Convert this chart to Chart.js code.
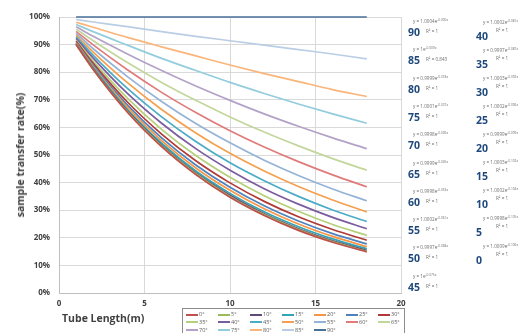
<!DOCTYPE html>
<html>
<head>
<meta charset="utf-8">
<script src="https://cdn.jsdelivr.net/npm/chart.js@4/dist/chart.umd.min.js"></script>
<style>
  body { margin: 0; background: #fff; }
  #wrap { position: relative; width: 532px; height: 333px; overflow: hidden; font-family: "Open Sans", sans-serif; }
  #chart { position: absolute; left: 0; top: 0; }
  .ytitle { position: absolute; left: 20px; top: 155px; transform: translate(-50%, -50%) rotate(-90deg);
            font-weight: bold; font-size: 10.5px; color: #404040; white-space: nowrap; }
  .xtitle { position: absolute; left: 62px; top: 311px; font-weight: bold; font-size: 10.5px; color: #404040; white-space: nowrap; }
  .num { position: absolute; font-weight: bold; font-size: 10.5px; color: #1f497d; line-height: 1; transform: translateY(-50%); }
  .eq, .r2 { position: absolute; font-size: 4.6px; color: #6e6e6e; white-space: nowrap; line-height: 1; transform: translateY(-50%); }
  .eq sup { font-size: 3.2px; vertical-align: 1.6px; }
  #legend { position: absolute; left: 182px; top: 308px; width: 223px; height: 40px; border: 1px solid #8c8c8c; box-sizing: border-box; }
  .item { position: absolute; font-size: 5.5px; color: #595959; white-space: nowrap; line-height: 1; }
  .item i { display: inline-block; width: 12px; height: 2px; vertical-align: middle; margin-right: 1px; }
</style>
</head>
<body>
<div id="wrap">
  <canvas id="chart" width="532" height="333"></canvas>
  <div class="ytitle">sample transfer rate(%)</div>
  <div class="xtitle">Tube Length(m)</div>
  <div id="legend"></div>
</div>
<script>
// tube length points (m)
const lengths = [1, 2, 4, 6, 8, 10, 12, 14, 16, 18];

// inclination angles and their line colours
const angles = [0, 5, 10, 15, 20, 25, 30, 35, 40, 45, 50, 55, 60, 65, 70, 75, 80, 85, 90];
const colors = ["#c0504d", "#9bbb59", "#604a7b", "#31a5b5", "#f79646", "#4f81bd", "#b03a36",
                "#b5cf7a", "#7b5c9e", "#4bacc6", "#f4a04e", "#95b3d7", "#e07b7b", "#c3d69b",
                "#b3a2c7", "#93cddd", "#fab57a", "#b9cde5", "#4a6f9a"];

// sample transfer rate (%), one row per angle
const rate0  = [90.0, 81.0, 65.5, 53.0, 42.9, 34.7, 28.1, 22.7, 18.4, 14.9];
const rate5  = [90.0, 81.0, 65.7, 53.3, 43.2, 35.0, 28.4, 23.0, 18.6, 15.1];
const rate10 = [90.1, 81.2, 66.0, 53.6, 43.5, 35.4, 28.7, 23.3, 18.9, 15.4];
const rate15 = [90.3, 81.6, 66.5, 54.3, 44.2, 36.1, 29.4, 24.0, 19.6, 16.0];
const rate20 = [90.6, 82.0, 67.3, 55.2, 45.3, 37.2, 30.5, 25.0, 20.5, 16.8];
const rate25 = [90.8, 82.5, 68.1, 56.2, 46.4, 38.3, 31.6, 26.1, 21.5, 17.8];
const rate30 = [91.2, 83.2, 69.2, 57.6, 47.9, 39.9, 33.2, 27.6, 23.0, 19.1];
const rate35 = [91.6, 84.0, 70.6, 59.3, 49.8, 41.9, 35.2, 29.6, 24.8, 20.9];
const rate40 = [92.2, 85.1, 72.3, 61.5, 52.3, 44.5, 37.8, 32.2, 27.4, 23.3];
const rate45 = [92.8, 86.1, 74.1, 63.8, 54.9, 47.2, 40.7, 35.0, 30.1, 25.9];
const rate50 = [93.4, 87.3, 76.2, 66.5, 58.0, 50.6, 44.2, 38.6, 33.7, 29.4];
const rate55 = [94.1, 88.5, 78.4, 69.4, 61.4, 54.4, 48.1, 42.6, 37.7, 33.4];
const rate60 = [94.8, 89.9, 80.9, 72.7, 65.4, 58.8, 52.9, 47.6, 42.8, 38.5];
const rate65 = [95.6, 91.4, 83.5, 76.3, 69.8, 63.8, 58.3, 53.3, 48.7, 44.5];
const rate70 = [96.5, 93.0, 86.6, 80.6, 75.0, 69.8, 64.9, 60.4, 56.2, 52.3];
const rate75 = [97.3, 94.7, 89.8, 85.0, 80.6, 76.3, 72.3, 68.5, 64.9, 61.5];
const rate80 = [98.1, 96.3, 92.6, 89.2, 85.9, 82.6, 79.5, 76.6, 73.7, 71.2];
const rate85 = [99.1, 98.2, 96.5, 94.7, 93.0, 91.4, 89.8, 88.2, 86.6, 84.8];
const rate90 = [100, 100, 100, 100, 100, 100, 100, 100, 100, 100];
const rates = [rate0, rate5, rate10, rate15, rate20, rate25, rate30, rate35, rate40, rate45,
               rate50, rate55, rate60, rate65, rate70, rate75, rate80, rate85, rate90];

// trendline labels shown beside the plot
const fitA = ["1.0009", "0.9998", "1.0002", "1.0003", "0.9999", "1.0002", "1.0003", "0.9997", "1.0002", "1",
              "0.9997", "1.0002", "0.9998", "0.9999", "0.9998", "1.0001", "0.9999", "1", "1.0004"];
const fitB = ["0.106", "0.105", "0.104", "0.102", "0.099", "0.096", "0.092", "0.087", "0.081", "0.075",
              "0.068", "0.061", "0.053", "0.045", "0.036", "0.027", "0.018", "0.009", "0.000"];
const fitR2 = ["1", "1", "1", "1", "1", "1", "1", "1", "1", "1",
               "1", "1", "1", "1", "1", "1", "1", "0.843", "1"];

const xTicks = [0, 5, 10, 15, 20];

const tickFont = { family: "Open Sans", size: 8, weight: "bold" };

const datasets = angles.map((a, i) => ({
    label: a + "°",
    data: lengths.map((x, j) => ({ x: x, y: rates[i][j] })),
    borderColor: colors[i],
    borderWidth: 1.7,
    pointRadius: 0,
    cubicInterpolationMode: "monotone",
    clip: 4,
    fill: false
}));

new Chart(document.getElementById("chart"), {
    type: "line",
    data: { datasets: datasets },
    options: {
        responsive: false,
        animation: false,
        layout: { padding: { top: 17, right: 131, left: 0, bottom: 0 } },
        plugins: { legend: { display: false }, tooltip: { enabled: false } },
        scales: {
            x: {
                type: "linear", min: 0, max: 20,
                afterBuildTicks: s => { s.ticks = xTicks.map(v => ({ value: v })); },
                afterFit: s => { s.height = 40; },
                grid: { color: "#d9d9d9", drawTicks: false },
                border: { color: "#bfbfbf" },
                ticks: { font: tickFont, color: "#404040", padding: 6 }
            },
            y: {
                min: 0, max: 100,
                afterFit: s => { s.width = 59; },
                grid: { color: "#d9d9d9", drawTicks: false },
                border: { color: "#bfbfbf" },
                ticks: { stepSize: 10, font: tickFont, color: "#404040", padding: 9, callback: v => v + "%" }
            }
        }
    }
});

// trendline equations, two columns: 90..45 and 40..0
const wrap = document.getElementById("wrap");
function add(cls, html, x, y) {
    const d = document.createElement("div");
    d.className = cls;
    d.innerHTML = html;
    d.style.left = x + "px";
    d.style.top = y + "px";
    wrap.appendChild(d);
}
angles.forEach((a, i) => {
    const left = a >= 45;
    const row = left ? (90 - a) / 5 : (40 - a) / 5;
    const y = left ? 32 + row * 28.3 : 36 + row * 28;
    const nx = left ? 408 : 476;
    add("num", String(a), nx, y);
    if (left) {
        add("eq", "y = " + fitA[i] + "e<sup>-" + fitB[i] + "x</sup>", 413, y - 11);
        add("r2", "R² = " + fitR2[i], 426, y - 1);
    } else {
        add("eq", "y = " + fitA[i] + "e<sup>-" + fitB[i] + "x</sup>", 483, y - 14);
        add("r2", "R² = " + fitR2[i], 496, y - 6);
    }
});

// legend box, 7 entries per row
const legend = document.getElementById("legend");
angles.forEach((a, i) => {
    const d = document.createElement("div");
    d.className = "item";
    d.innerHTML = '<i style="background:' + colors[i] + '"></i>' + a + "°";
    d.style.left = (3 + (i % 7) * 32) + "px";
    d.style.top = (3 + Math.floor(i / 7) * 7.8) + "px";
    legend.appendChild(d);
});
</script>
</body>
</html>
